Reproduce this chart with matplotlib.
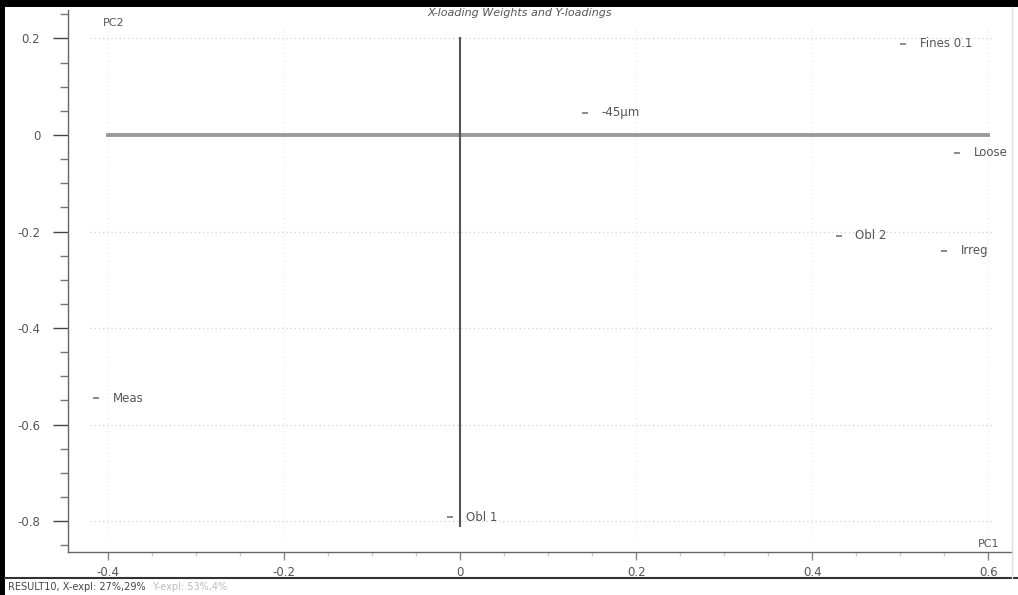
import matplotlib
matplotlib.use('Agg')
import numpy as np
from matplotlib import pyplot as plt
from matplotlib.ticker import MultipleLocator, FixedLocator

# Loadings of variables on the first two components
names = ['-45µm', 'Fines 0.1', 'Loose', 'Obl 2', 'Irreg', 'Meas', 'Obl 1']
pc1 = [0.142, 0.503, 0.565, 0.430, 0.550, -0.414, -0.012]
pc2 = [0.046, 0.189, -0.037, -0.209, -0.240, -0.545, -0.792]

x_ticks = [-0.4, -0.2, 0, 0.2, 0.4, 0.6]
x_tick_labels = ['-0.4', '-0.2', '0', '0.2', '0.4', '0.6']
y_ticks = [0.2, 0, -0.2, -0.4, -0.6, -0.8]
y_tick_labels = ['0.2', '0', '-0.2', '-0.4', '-0.6', '-0.8']

W, H = 1018, 595
fig = plt.figure(figsize=(W / 100, H / 100), dpi=100)
plt.rcParams['font.family'] = ['DejaVu Sans']

txt_col = '#555555'

# plot area in pixels
left, right, top, bottom = 68, 1012, 10, 552
ax = fig.add_axes([left / W, 1 - bottom / H, (right - left) / W, (bottom - top) / H])
ax.set_xlim(-0.4455, 0.627)
ax.set_ylim(-0.864, 0.259)

for s in ['top', 'right']:
    ax.spines[s].set_visible(False)
ax.spines['left'].set_color('#666666')
ax.spines['bottom'].set_color('#666666')
ax.spines['left'].set_linewidth(1.0)
ax.spines['bottom'].set_linewidth(1.0)

ax.xaxis.set_major_locator(FixedLocator(x_ticks))
ax.set_xticklabels(x_tick_labels)
ax.yaxis.set_major_locator(FixedLocator(y_ticks))
ax.set_yticklabels(y_tick_labels)
ax.xaxis.set_minor_locator(MultipleLocator(0.05))
ax.yaxis.set_minor_locator(MultipleLocator(0.05))

ax.tick_params(axis='y', which='major', length=11, width=1, color='#444444',
               labelsize=8.5, labelcolor=txt_col, pad=9)
ax.tick_params(axis='y', which='minor', length=6, width=1, color='#777777')
ax.tick_params(axis='x', which='major', length=6, width=1, color='#888888',
               labelsize=8.5, labelcolor=txt_col, pad=4)
ax.tick_params(axis='x', which='minor', length=3, width=1, color='#cccccc')

# faint dotted grid
for yv in y_ticks:
    if yv != 0:
        ax.plot([-0.42, 0.605], [yv, yv], ls=(0, (1, 2)), color='#d8d8d8', lw=1, zorder=0)
for xv in x_ticks:
    if xv != 0:
        ax.plot([xv, xv], [-0.83, 0.22], ls=(0, (1, 2)), color='#ececec', lw=1, zorder=0)

# zero axes
ax.plot([-0.4, 0.6], [0, 0], color='#9a9a9a', lw=2.8, zorder=1)
ax.plot([0, 0], [-0.81, 0.2], color='#555555', lw=1.5, zorder=2)

# loadings
ax.plot(pc1, pc2, ls='none', marker='_', ms=4, mew=1.2, color='#777777', zorder=3)
for n, x, y in zip(names, pc1, pc2):
    ax.annotate(n, (x, y), xytext=(12, 0), textcoords='offset points',
                va='center', ha='left', fontsize=8.5, color=txt_col,
                annotation_clip=False, clip_on=False)

ax.text(0.037, 0.985, 'PC2', transform=ax.transAxes, fontsize=8, color=txt_col,
        va='top', ha='left')
ax.text(0.987, 0.005, 'PC1', transform=ax.transAxes, fontsize=8, color=txt_col,
        va='bottom', ha='right')
fig.text(520 / W, 1 - 13 / H, 'X-loading Weights and Y-loadings', fontsize=8,
         color=txt_col, ha='center', va='center', style='italic')

# window frame and status line
fig.add_artist(plt.Rectangle((0, 1 - 7 / H), 1, 7 / H, transform=fig.transFigure,
                             color='black', lw=0))
fig.add_artist(plt.Rectangle((0, 0), 5 / W, 1, transform=fig.transFigure,
                             color='black', lw=0))
fig.add_artist(plt.Line2D([5 / W, 1], [1 - 578 / H, 1 - 578 / H],
                          transform=fig.transFigure, color='#333333', lw=1.5))
fig.add_artist(plt.Line2D([right / W, right / W], [1 - 578 / H, 1 - 7 / H],
                          transform=fig.transFigure, color='#dddddd', lw=1))
fig.text(8 / W, 1 - 587 / H, 'RESULT10, X-expl: 27%,29%', fontsize=7,
         color='#444444', ha='left', va='center')
fig.text(152 / W, 1 - 587 / H, 'Y-expl: 53%,4%', fontsize=7,
         color='#bbbbbb', ha='left', va='center')

fig.savefig('out.png', dpi=100)
